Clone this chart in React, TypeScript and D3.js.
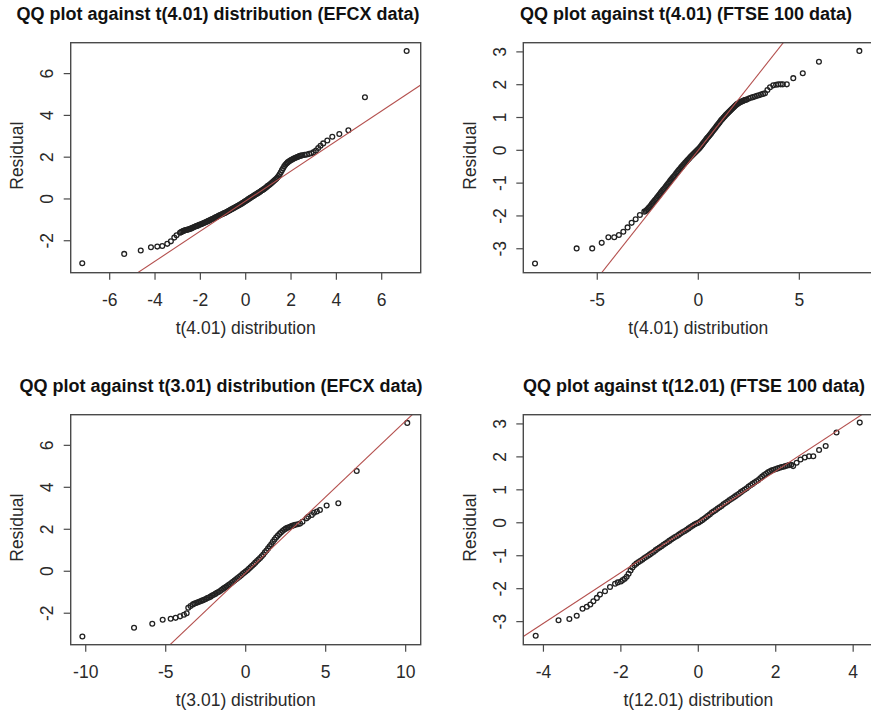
import React from "react";
import * as d3 from "d3";

// ---------- DATA ----------
const titles = [
  "QQ plot against t(4.01) distribution (EFCX data)",
  "QQ plot against t(4.01) (FTSE 100 data)",
  "QQ plot against t(3.01) distribution (EFCX data)",
  "QQ plot against t(12.01) (FTSE 100 data)",
];
const xAxisLabels = [
  "t(4.01) distribution",
  "t(4.01) distribution",
  "t(3.01) distribution",
  "t(12.01) distribution",
];
const yAxisLabel = "Residual";

const xTicks = [
  [-6, -4, -2, 0, 2, 4, 6],
  [-5, 0, 5],
  [-10, -5, 0, 5, 10],
  [-4, -2, 0, 2, 4],
];
const yTicks = [
  [-2, 0, 2, 4, 6],
  [-3, -2, -1, 0, 1, 2, 3],
  [-2, 0, 2, 4, 6],
  [-3, -2, -1, 0, 1, 2, 3],
];
const xLimits = [
  [-7.72, 7.72],
  [-8.66, 8.66],
  [-10.94, 10.94],
  [-4.52, 4.52],
];
const yLimits = [
  [-3.53, 7.48],
  [-3.73, 3.28],
  [-3.5, 7.46],
  [-3.7, 3.28],
];
// reference line (intercept, slope)
const qqLineIntercepts = [-0.1, 0.0, -0.075, 0.03];
const qqLineSlopes = [0.72, 0.78, 0.724, 0.77];

// [theoretical quantile, residual]
const efcxT4: [number, number][] = [
  [-7.21, -3.08], [-5.36, -2.63], [-4.63, -2.47], [-4.18, -2.31], [-3.9, -2.28], [-3.68, -2.25],
  [-3.46, -2.15], [-3.3, -2.03], [-3.15, -1.85], [-3.05, -1.74],
  [-2.9, -1.62], [-2.85, -1.59], [-2.8, -1.56], [-2.75, -1.53], [-2.7, -1.51], [-2.65, -1.49],
  [-2.6, -1.48], [-2.55, -1.46], [-2.5, -1.45], [-2.45, -1.43], [-2.4, -1.41], [-2.35, -1.38],
  [-2.3, -1.36], [-2.25, -1.33], [-2.2, -1.31], [-2.15, -1.29], [-2.1, -1.27], [-2.05, -1.24],
  [-2.0, -1.22], [-1.95, -1.2], [-1.9, -1.18], [-1.85, -1.15], [-1.8, -1.13], [-1.75, -1.1],
  [-1.7, -1.08], [-1.65, -1.05], [-1.6, -1.03], [-1.55, -1.0], [-1.5, -0.97], [-1.45, -0.95],
  [-1.4, -0.92], [-1.35, -0.89], [-1.3, -0.87], [-1.25, -0.84], [-1.2, -0.81], [-1.15, -0.78],
  [-1.1, -0.76], [-1.05, -0.73], [-1.0, -0.71], [-0.95, -0.68], [-0.9, -0.66], [-0.85, -0.63],
  [-0.8, -0.6], [-0.75, -0.57], [-0.7, -0.54], [-0.65, -0.51], [-0.6, -0.48], [-0.55, -0.45],
  [-0.5, -0.42], [-0.45, -0.39], [-0.4, -0.36], [-0.35, -0.33], [-0.3, -0.3], [-0.25, -0.27],
  [-0.2, -0.24], [-0.15, -0.2], [-0.1, -0.17], [-0.05, -0.13], [0.0, -0.1], [0.05, -0.06],
  [0.1, -0.02], [0.15, 0.01], [0.2, 0.05], [0.25, 0.08], [0.3, 0.12], [0.35, 0.15],
  [0.4, 0.19], [0.45, 0.22], [0.5, 0.25], [0.55, 0.29], [0.6, 0.32], [0.65, 0.36],
  [0.7, 0.4], [0.75, 0.43], [0.8, 0.47], [0.85, 0.51], [0.9, 0.55], [0.95, 0.6],
  [1.0, 0.64], [1.05, 0.68], [1.1, 0.73], [1.15, 0.77], [1.2, 0.82], [1.25, 0.87],
  [1.3, 0.92], [1.35, 0.97], [1.4, 1.03], [1.45, 1.1], [1.5, 1.18], [1.55, 1.28],
  [1.6, 1.38], [1.65, 1.47], [1.7, 1.56], [1.75, 1.64], [1.8, 1.7], [1.85, 1.75],
  [1.9, 1.79], [1.95, 1.83], [2.0, 1.86], [2.05, 1.89], [2.1, 1.92], [2.15, 1.95],
  [2.2, 1.97], [2.25, 2.0], [2.3, 2.02], [2.35, 2.04], [2.4, 2.06], [2.45, 2.08],
  [2.5, 2.09], [2.6, 2.11], [2.7, 2.13], [2.8, 2.16], [2.9, 2.19], [3.0, 2.24],
  [3.1, 2.32], [3.2, 2.44], [3.3, 2.55], [3.42, 2.66], [3.6, 2.8], [3.82, 2.98],
  [4.13, 3.11], [4.53, 3.29], [5.26, 4.87], [7.1, 7.08],
];

const ftseT4: [number, number][] = [
  [-8.08, -3.45], [-6.02, -2.99], [-5.25, -2.99], [-4.78, -2.82], [-4.45, -2.65], [-4.16, -2.65],
  [-3.93, -2.58], [-3.71, -2.48], [-3.5, -2.35], [-3.3, -2.21], [-3.1, -2.1], [-2.89, -1.97],
  [-2.67, -1.87], [-2.6, -1.85], [-2.55, -1.82], [-2.5, -1.79], [-2.45, -1.75], [-2.4, -1.72],
  [-2.35, -1.68], [-2.3, -1.64], [-2.25, -1.6], [-2.2, -1.56], [-2.15, -1.52], [-2.1, -1.49],
  [-2.05, -1.45], [-2.0, -1.41], [-1.95, -1.37], [-1.9, -1.33], [-1.85, -1.29], [-1.8, -1.25],
  [-1.75, -1.21], [-1.7, -1.18], [-1.65, -1.14], [-1.6, -1.1], [-1.55, -1.06], [-1.5, -1.02],
  [-1.45, -0.98], [-1.4, -0.94], [-1.35, -0.9], [-1.3, -0.86], [-1.25, -0.82], [-1.2, -0.79],
  [-1.15, -0.75], [-1.1, -0.71], [-1.05, -0.67], [-1.0, -0.63], [-0.95, -0.59], [-0.9, -0.56],
  [-0.85, -0.52], [-0.8, -0.49], [-0.75, -0.45], [-0.7, -0.42], [-0.65, -0.38], [-0.6, -0.35],
  [-0.55, -0.31], [-0.5, -0.28], [-0.45, -0.25], [-0.4, -0.21], [-0.35, -0.18], [-0.3, -0.15],
  [-0.25, -0.12], [-0.2, -0.09], [-0.15, -0.06], [-0.1, -0.03], [-0.05, 0.0], [0.0, 0.03],
  [0.05, 0.06], [0.1, 0.1], [0.15, 0.14], [0.2, 0.18], [0.25, 0.22], [0.3, 0.26],
  [0.35, 0.3], [0.4, 0.34], [0.45, 0.38], [0.5, 0.41], [0.55, 0.45], [0.6, 0.49],
  [0.65, 0.53], [0.7, 0.57], [0.75, 0.61], [0.8, 0.65], [0.85, 0.69], [0.9, 0.73],
  [0.95, 0.77], [1.0, 0.81], [1.05, 0.85], [1.1, 0.89], [1.15, 0.93], [1.2, 0.96],
  [1.25, 1.0], [1.3, 1.03], [1.35, 1.07], [1.4, 1.1], [1.45, 1.13], [1.5, 1.16],
  [1.55, 1.19], [1.6, 1.22], [1.65, 1.25], [1.7, 1.28], [1.75, 1.31], [1.8, 1.34],
  [1.85, 1.37], [1.9, 1.4], [1.95, 1.42], [2.0, 1.44], [2.05, 1.46], [2.1, 1.48],
  [2.15, 1.49], [2.2, 1.5], [2.25, 1.52], [2.3, 1.53], [2.35, 1.54], [2.4, 1.55],
  [2.5, 1.58], [2.6, 1.6], [2.7, 1.62], [2.8, 1.64], [2.9, 1.66], [3.0, 1.68],
  [3.1, 1.7], [3.2, 1.72], [3.3, 1.74], [3.42, 1.84], [3.55, 1.92], [3.71, 1.98],
  [3.85, 2.0], [3.96, 2.01], [4.08, 2.01], [4.18, 2.01], [4.38, 2.01], [4.7, 2.2],
  [5.17, 2.35], [5.97, 2.7], [7.97, 3.03],
];

const efcxT3: [number, number][] = [
  [-10.21, -3.11], [-6.98, -2.69], [-5.84, -2.5], [-5.19, -2.31], [-4.69, -2.26], [-4.38, -2.22],
  [-4.1, -2.15], [-3.86, -2.07], [-3.69, -2.0], [-3.59, -1.74], [-3.45, -1.66], [-3.3, -1.58],
  [-3.2, -1.54], [-3.1, -1.51], [-3.0, -1.48], [-2.9, -1.45], [-2.8, -1.42], [-2.7, -1.39],
  [-2.6, -1.36], [-2.5, -1.32], [-2.4, -1.28], [-2.3, -1.25], [-2.2, -1.21], [-2.1, -1.16],
  [-2.0, -1.12], [-1.9, -1.08], [-1.8, -1.03], [-1.7, -0.99], [-1.6, -0.94], [-1.5, -0.88],
  [-1.4, -0.83], [-1.3, -0.78], [-1.2, -0.73], [-1.1, -0.67], [-1.0, -0.62], [-0.9, -0.56],
  [-0.8, -0.5], [-0.7, -0.44], [-0.6, -0.38], [-0.5, -0.32], [-0.4, -0.26], [-0.3, -0.2],
  [-0.2, -0.13], [-0.1, -0.07], [0.0, -0.01], [0.1, 0.05], [0.2, 0.12], [0.3, 0.19],
  [0.4, 0.26], [0.5, 0.33], [0.6, 0.41], [0.7, 0.49], [0.8, 0.56], [0.9, 0.63],
  [1.0, 0.71], [1.1, 0.8], [1.2, 0.9], [1.3, 0.99], [1.4, 1.09], [1.5, 1.19],
  [1.6, 1.29], [1.7, 1.4], [1.8, 1.51], [1.9, 1.61], [2.0, 1.69], [2.1, 1.77],
  [2.2, 1.85], [2.3, 1.92], [2.4, 1.98], [2.5, 2.03], [2.6, 2.07], [2.7, 2.1],
  [2.8, 2.13], [2.9, 2.16], [3.0, 2.19], [3.1, 2.21], [3.25, 2.24], [3.4, 2.27],
  [3.55, 2.36], [3.81, 2.52], [3.91, 2.6], [4.13, 2.68], [4.27, 2.79], [4.45, 2.85],
  [4.64, 2.92], [5.06, 3.13], [5.79, 3.24], [6.94, 4.78], [10.1, 7.07],
];

const ftseT12: [number, number][] = [
  [-4.2, -3.43], [-3.61, -2.96], [-3.33, -2.92], [-3.14, -2.82], [-2.99, -2.61], [-2.88, -2.55],
  [-2.79, -2.48], [-2.71, -2.38], [-2.62, -2.28], [-2.54, -2.18], [-2.41, -2.08], [-2.28, -1.95],
  [-2.15, -1.85], [-2.08, -1.81], [-2.0, -1.78], [-1.95, -1.74], [-1.9, -1.7], [-1.85, -1.64],
  [-1.8, -1.55], [-1.75, -1.45], [-1.7, -1.36], [-1.65, -1.29], [-1.6, -1.24], [-1.55, -1.2],
  [-1.5, -1.16], [-1.45, -1.12], [-1.4, -1.08], [-1.35, -1.04], [-1.3, -1.0], [-1.25, -0.96],
  [-1.2, -0.92], [-1.15, -0.88], [-1.1, -0.83], [-1.05, -0.79], [-1.0, -0.75], [-0.95, -0.71],
  [-0.9, -0.67], [-0.85, -0.63], [-0.8, -0.59], [-0.75, -0.55], [-0.7, -0.51], [-0.65, -0.47],
  [-0.6, -0.43], [-0.55, -0.4], [-0.5, -0.36], [-0.45, -0.32], [-0.4, -0.28], [-0.35, -0.25],
  [-0.3, -0.21], [-0.25, -0.17], [-0.2, -0.13], [-0.15, -0.09], [-0.1, -0.05], [-0.05, -0.02],
  [0.0, 0.0], [0.05, 0.04], [0.1, 0.08], [0.15, 0.12], [0.2, 0.17], [0.25, 0.21],
  [0.3, 0.26], [0.35, 0.31], [0.4, 0.35], [0.45, 0.39], [0.5, 0.43], [0.55, 0.47],
  [0.6, 0.51], [0.65, 0.56], [0.7, 0.6], [0.75, 0.64], [0.8, 0.68], [0.85, 0.72],
  [0.9, 0.76], [0.95, 0.8], [1.0, 0.84], [1.05, 0.88], [1.1, 0.93], [1.15, 0.97],
  [1.2, 1.01], [1.25, 1.05], [1.3, 1.1], [1.35, 1.14], [1.4, 1.18], [1.45, 1.22],
  [1.5, 1.26], [1.55, 1.3], [1.6, 1.35], [1.65, 1.4], [1.7, 1.45], [1.75, 1.49],
  [1.8, 1.53], [1.85, 1.56], [1.9, 1.59], [1.95, 1.61], [2.0, 1.63], [2.05, 1.65],
  [2.1, 1.67], [2.15, 1.69], [2.2, 1.7], [2.25, 1.72], [2.3, 1.74], [2.35, 1.75],
  [2.4, 1.76], [2.45, 1.72], [2.54, 1.82], [2.64, 1.92], [2.75, 1.98], [2.86, 2.02],
  [2.97, 2.02], [3.12, 2.21], [3.29, 2.33], [3.57, 2.74], [4.17, 3.04],
];

const panelPoints = [efcxT4, ftseT4, efcxT3, ftseT12];

// ---------- LAYOUT ----------
const W = 871;
const H = 715;
const PLOT_W = 350;
const PLOT_H = 230;
const layout = [
  { left: 70.7, top: 42.7, titleX: 218 },
  { left: 523.3, top: 42.7, titleX: 686 },
  { left: 70.7, top: 414.7, titleX: 221 },
  { left: 523.3, top: 414.7, titleX: 694 },
];
const FONT = "'Liberation Sans', Arial, Helvetica, sans-serif";
const AXIS_COLOR = "#4a4a4a";
const TEXT_COLOR = "#2a2a2a";
const LINE_COLOR = "#b4504e";
const POINT_COLOR = "#222";

function Panel({ i }: { i: number }) {
  const L = layout[i];
  const x = d3.scaleLinear().domain(xLimits[i]).range([L.left, L.left + PLOT_W]);
  const y = d3.scaleLinear().domain(yLimits[i]).range([L.top + PLOT_H, L.top]);
  const a = qqLineIntercepts[i];
  const b = qqLineSlopes[i];
  const lineGen = d3
    .line<[number, number]>()
    .x((d) => x(d[0]))
    .y((d) => y(d[1]));
  const xl = xLimits[i];
  const refLine: [number, number][] = [
    [xl[0], a + b * xl[0]],
    [xl[1], a + b * xl[1]],
  ];
  const bottom = L.top + PLOT_H;
  const clipId = `clip-${i}`;
  const yMid = L.top + PLOT_H / 2;
  return (
    <g>
      <defs>
        <clipPath id={clipId}>
          <rect x={L.left} y={L.top} width={PLOT_W} height={PLOT_H} />
        </clipPath>
      </defs>
      <text
        x={L.titleX}
        y={L.top - 22.5}
        textAnchor="middle"
        fontFamily={FONT}
        fontWeight="bold"
        fontSize={18}
        fill="#111"
      >
        {titles[i]}
      </text>
      <g clipPath={`url(#${clipId})`}>
        {panelPoints[i].map((d, k) => (
          <circle
            key={k}
            cx={x(d[0])}
            cy={y(d[1])}
            r={2.4}
            fill="none"
            stroke={POINT_COLOR}
            strokeWidth={1.3}
          />
        ))}
        <path d={lineGen(refLine) || ""} stroke={LINE_COLOR} strokeWidth={1.1} fill="none" />
      </g>
      <rect
        x={L.left}
        y={L.top}
        width={PLOT_W}
        height={PLOT_H}
        fill="none"
        stroke={AXIS_COLOR}
        strokeWidth={1.4}
      />
      {xTicks[i].map((t) => (
        <g key={"xt" + t}>
          <line x1={x(t)} x2={x(t)} y1={bottom} y2={bottom + 7} stroke={AXIS_COLOR} strokeWidth={1.2} />
          <text
            x={x(t)}
            y={bottom + 33}
            textAnchor="middle"
            fontFamily={FONT}
            fontSize={17.5}
            fill={TEXT_COLOR}
          >
            {String(t)}
          </text>
        </g>
      ))}
      {yTicks[i].map((t) => (
        <g key={"yt" + t}>
          <line x1={L.left - 7} x2={L.left} y1={y(t)} y2={y(t)} stroke={AXIS_COLOR} strokeWidth={1.2} />
          <text
            transform={`translate(${L.left - 17.4},${y(t)}) rotate(-90)`}
            textAnchor="middle"
            fontFamily={FONT}
            fontSize={17.5}
            fill={TEXT_COLOR}
          >
            {String(t)}
          </text>
        </g>
      ))}
      <text
        x={L.left + PLOT_W / 2}
        y={bottom + 61.3}
        textAnchor="middle"
        fontFamily={FONT}
        fontSize={17.5}
        fill={TEXT_COLOR}
      >
        {xAxisLabels[i]}
      </text>
      <text
        transform={`translate(${L.left - 47.5},${yMid - 2}) rotate(-90)`}
        textAnchor="middle"
        fontFamily={FONT}
        fontSize={17.5}
        fill={TEXT_COLOR}
      >
        {yAxisLabel}
      </text>
    </g>
  );
}

export default function App() {
  return (
    <svg
      width={W}
      height={H}
      viewBox={`0 0 ${W} ${H}`}
      style={{ position: "absolute", left: 0, top: 0, background: "#fff" }}
    >
      <rect x={0} y={0} width={W} height={H} fill="#fff" />
      {[0, 1, 2, 3].map((i) => (
        <Panel key={i} i={i} />
      ))}
    </svg>
  );
}
